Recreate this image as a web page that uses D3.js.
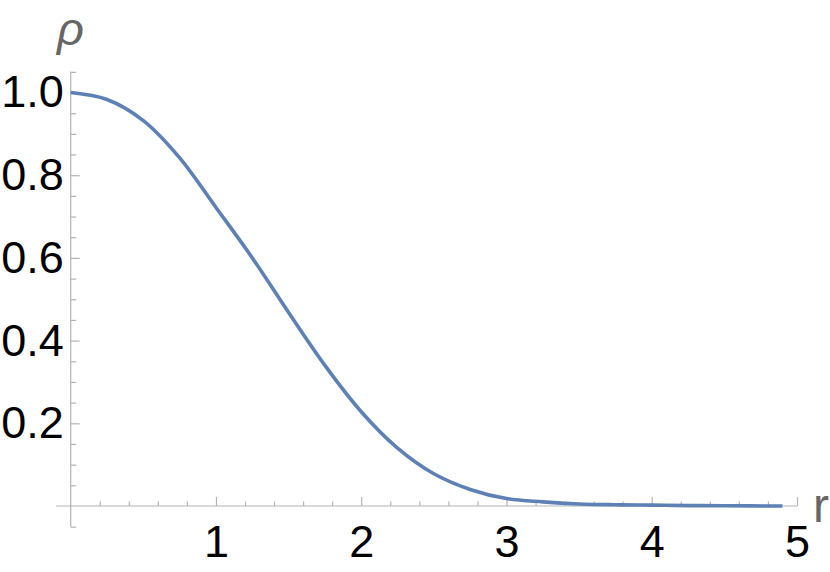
<!DOCTYPE html>
<html>
<head>
<meta charset="utf-8">
<script src="https://cdnjs.cloudflare.com/ajax/libs/d3/7.8.5/d3.min.js"></script>
<style>
    body { margin: 0; background: white; }
    svg { display: block; }
</style>
</head>
<body>
<div id="chart"></div>
<script>
(function () {
    'use strict';

    let rValues = [0, 0.25, 0.5, 0.75, 1.0, 1.25, 1.5, 1.75, 2.0, 2.25, 2.5, 2.75, 3.0, 3.25, 3.5, 3.75, 4.0, 4.25, 4.5, 4.9];
    let rhoValues = [1.0, 0.983, 0.932, 0.842, 0.722, 0.6, 0.468, 0.34, 0.228, 0.14, 0.078, 0.04, 0.018, 0.01, 0.005, 0.003, 0.002, 0.001, 0.0005, 0.0];
    let xMajorTicks = [1, 2, 3, 4, 5];
    let yMajorTicks = [0.2, 0.4, 0.6, 0.8, 1.0];
    let xMinorTicks = d3.range(1, 25).map(function (i) { return i * 0.2; }).filter(function (v) { return Math.abs(v - Math.round(v)) > 1e-6; });
    let yMinorTicks = d3.range(-1, 22).map(function (i) { return i * 0.05; }).filter(function (v) { return Math.abs(v * 5 - Math.round(v * 5)) > 1e-6; });

    let width = 830;
    let height = 572;
    let axisColor = '#b3b3b3';
    let lineColor = '#5e81b5';

    let svg = d3.select('#chart').append('svg')
        .attr('width', width)
        .attr('height', height)
        .style('font-family', '"Liberation Sans", Arial, sans-serif');

    let xScale = d3.scaleLinear()
        .domain([0, 5])
        .range([70.7, 797]);
    let yScale = d3.scaleLinear()
        .domain([0, 1])
        .range([506, 92.5]);

    // axis lines
    svg.append('line')
        .attr('x1', xScale(-0.1)).attr('x2', xScale(5))
        .attr('y1', yScale(0)).attr('y2', yScale(0))
        .style('stroke', axisColor).style('stroke-width', 1.2);
    svg.append('line')
        .attr('x1', xScale(0)).attr('x2', xScale(0))
        .attr('y1', yScale(-0.05)).attr('y2', yScale(1.05))
        .style('stroke', axisColor).style('stroke-width', 1.2);

    // minor ticks
    let xMinor = d3.axisBottom(xScale)
        .tickValues(xMinorTicks)
        .tickSizeInner(-4.5).tickSizeOuter(0)
        .tickFormat('');
    svg.append('g')
        .attr('class', 'x-minor')
        .attr('transform', 'translate(0,' + yScale(0) + ')')
        .call(xMinor);

    let yMinor = d3.axisLeft(yScale)
        .tickValues(yMinorTicks)
        .tickSizeInner(-5.5).tickSizeOuter(0)
        .tickFormat('');
    svg.append('g')
        .attr('class', 'y-minor')
        .attr('transform', 'translate(' + xScale(0) + ',0)')
        .call(yMinor);

    // major ticks with labels
    let xAxis = d3.axisBottom(xScale)
        .tickValues(xMajorTicks)
        .tickSizeInner(-9).tickSizeOuter(0)
        .tickPadding(19)
        .tickFormat(d3.format('d'));
    svg.append('g')
        .attr('class', 'x-axis')
        .attr('transform', 'translate(0,' + yScale(0) + ')')
        .call(xAxis);

    let yAxis = d3.axisLeft(yScale)
        .tickValues(yMajorTicks)
        .tickSizeInner(-9).tickSizeOuter(0)
        .tickPadding(7)
        .tickFormat(d3.format('.1f'));
    svg.append('g')
        .attr('class', 'y-axis')
        .attr('transform', 'translate(' + xScale(0) + ',0)')
        .call(yAxis);

    svg.selectAll('.domain').remove();
    svg.selectAll('.tick line')
        .style('stroke', axisColor)
        .style('stroke-width', 1.2);
    svg.selectAll('.x-axis text, .y-axis text')
        .style('font-family', '"Liberation Sans", Arial, sans-serif')
        .style('font-size', '45px')
        .style('fill', 'black');

    // curve
    let line = d3.line()
        .x(function (d, i) { return xScale(rValues[i]); })
        .y(function (d) { return yScale(d); })
        .curve(d3.curveCatmullRom.alpha(0.5));
    svg.append('path')
        .datum(rhoValues)
        .attr('d', line)
        .style('fill', 'none')
        .style('stroke', lineColor)
        .style('stroke-width', 3.6)
        .style('stroke-linecap', 'butt');

    // axis labels
    svg.append('text')
        .attr('x', 813)
        .attr('y', 522)
        .style('font-size', '48px')
        .style('fill', '#666666')
        .text('r');
    svg.append('text')
        .attr('x', 57)
        .attr('y', 45)
        .style('font-size', '47px')
        .style('font-style', 'italic')
        .style('fill', '#666666')
        .text('ρ');
})();
</script>
</body>
</html>
